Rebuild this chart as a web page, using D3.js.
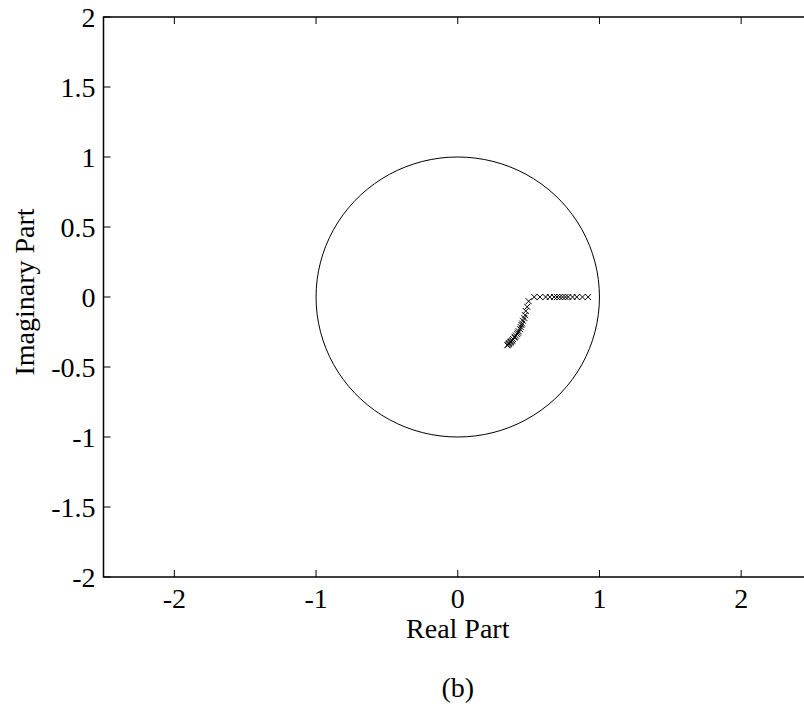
<!DOCTYPE html>
<html>
<head>
<meta charset="utf-8">
<script src="https://cdn.jsdelivr.net/npm/d3@7"></script>
<style>
  html, body { margin: 0; padding: 0; background: #fff; }
  svg { display: block; }
</style>
</head>
<body>
<script>
// Pole locations (real, imaginary) of the filter
const realAxisPolesRe = [0.54, 0.58, 0.62, 0.65, 0.68, 0.70, 0.72, 0.74, 0.76, 0.78, 0.81, 0.84, 0.88, 0.92];
const realAxisPolesIm = [0, 0, 0, 0, 0, 0, 0, 0, 0, 0, 0, 0, 0, 0];
const complexPolesRe = [0.50, 0.49, 0.48, 0.475, 0.47, 0.46, 0.455, 0.45, 0.445, 0.44, 0.43, 0.425, 0.42, 0.41, 0.405, 0.40, 0.39, 0.385, 0.38, 0.375, 0.37, 0.365, 0.36, 0.355, 0.35];
const complexPolesIm = [-0.03, -0.07, -0.10, -0.13, -0.15, -0.17, -0.19, -0.20, -0.215, -0.23, -0.245, -0.255, -0.265, -0.275, -0.285, -0.29, -0.30, -0.31, -0.315, -0.32, -0.325, -0.33, -0.335, -0.34, -0.345];

const xTicks = [-2, -1, 0, 1, 2];
const yTicks = [-2, -1.5, -1, -0.5, 0, 0.5, 1, 1.5, 2];
const xDomain = [-2.5, 2.5];
const yDomain = [-2, 2];

const W = 804, H = 708;
const margin = { left: 103.5, top: 17, right: -8, bottom: 131 };
const FONT = "'Liberation Serif', 'Times New Roman', 'DejaVu Serif', serif";

const svg = d3.select("body").append("svg").attr("width", W).attr("height", H)
  .attr("font-family", FONT);

const x = d3.scaleLinear().domain(xDomain).range([margin.left, W - margin.right]);
const y = d3.scaleLinear().domain(yDomain).range([H - margin.bottom, margin.top]);

const fontSize = 28;
const tickLen = 7;

// Unit circle
const circlePts = d3.range(0, 101).map(i => {
  const t = 2 * Math.PI * i / 100;
  return [Math.cos(t), Math.sin(t)];
});
svg.append("path")
  .datum(circlePts)
  .attr("fill", "none")
  .attr("stroke", "#000")
  .attr("stroke-width", 1)
  .attr("d", d3.line().x(d => x(d[0])).y(d => y(d[1])));

// Pole markers ('x')
const poles = realAxisPolesRe.map((r, i) => [r, realAxisPolesIm[i]])
  .concat(complexPolesRe.map((r, i) => [r, complexPolesIm[i]]));
const m = 3;
svg.append("g").selectAll("path").data(poles).join("path")
  .attr("fill", "none")
  .attr("stroke", "#000")
  .attr("stroke-width", 1)
  .attr("d", d => {
    const cx = x(d[0]), cy = y(d[1]);
    return `M${cx - m},${cy - m}L${cx + m},${cy + m}M${cx - m},${cy + m}L${cx + m},${cy - m}`;
  });

// Axes box
const x0 = x.range()[0], x1 = x.range()[1], y0 = y.range()[0], y1 = y.range()[1];
svg.append("rect")
  .attr("x", x0).attr("y", y1)
  .attr("width", x1 - x0).attr("height", y0 - y1)
  .attr("fill", "none").attr("stroke", "#000").attr("stroke-width", 1.5);

// Inward ticks on all sides
const ticks = svg.append("g").attr("stroke", "#000").attr("stroke-width", 1);
xTicks.forEach(t => {
  ticks.append("line").attr("x1", x(t)).attr("x2", x(t)).attr("y1", y0).attr("y2", y0 - tickLen);
  ticks.append("line").attr("x1", x(t)).attr("x2", x(t)).attr("y1", y1).attr("y2", y1 + tickLen);
});
yTicks.forEach(t => {
  ticks.append("line").attr("x1", x0).attr("x2", x0 + tickLen).attr("y1", y(t)).attr("y2", y(t));
  ticks.append("line").attr("x1", x1).attr("x2", x1 - tickLen).attr("y1", y(t)).attr("y2", y(t));
});

// Tick labels
svg.append("g").selectAll("text").data(xTicks).join("text")
  .attr("x", d => x(d)).attr("y", y0 + 31)
  .attr("text-anchor", "middle").attr("font-size", fontSize)
  .text(d => String(d));
svg.append("g").selectAll("text").data(yTicks).join("text")
  .attr("x", x0 - 8).attr("y", d => y(d) + 10)
  .attr("text-anchor", "end").attr("font-size", fontSize)
  .text(d => String(d));

// Axis titles
svg.append("text")
  .attr("x", x(0)).attr("y", 638)
  .attr("text-anchor", "middle").attr("font-size", fontSize)
  .text("Real Part");
svg.append("text")
  .attr("transform", `translate(34,${y(0) - 5}) rotate(-90)`)
  .attr("text-anchor", "middle").attr("font-size", fontSize)
  .text("Imaginary Part");

// Panel caption
svg.append("text")
  .attr("x", x(0)).attr("y", 697)
  .attr("text-anchor", "middle").attr("font-size", fontSize)
  .text("(b)");
</script>
</body>
</html>
